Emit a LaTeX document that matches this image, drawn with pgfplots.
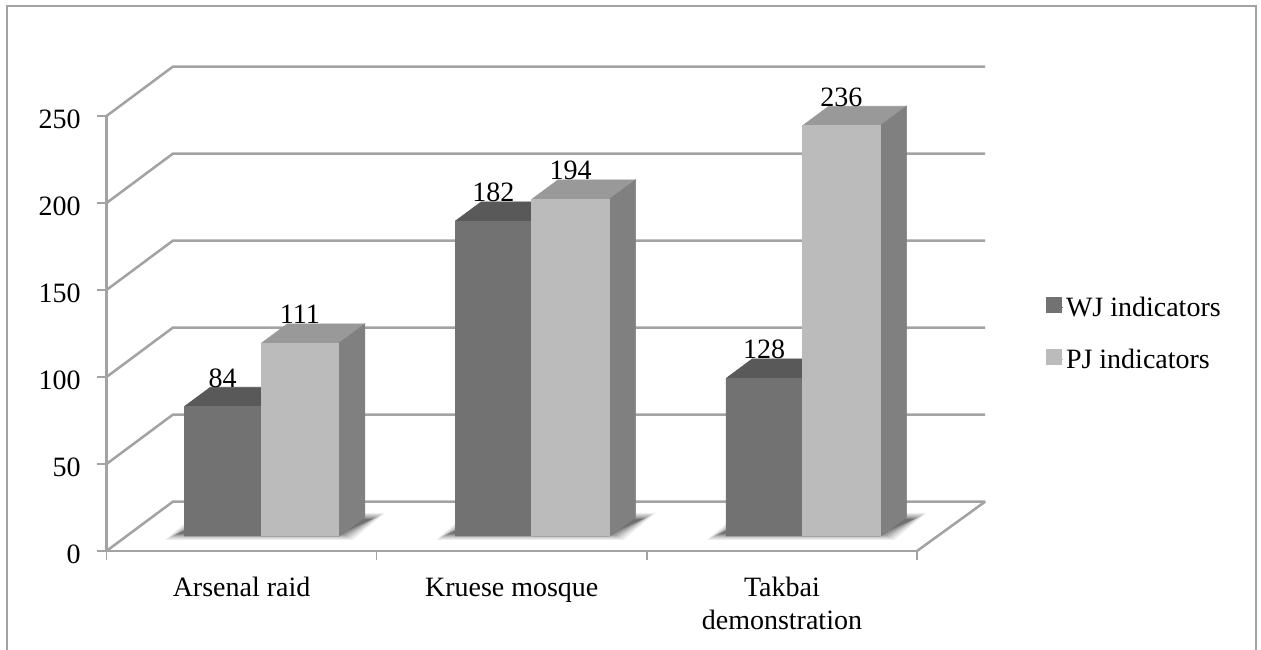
\documentclass[border=0pt]{standalone}
\usepackage{fontspec}
\setmainfont{Liberation Serif}
\usepackage{pgfplots}
\pgfplotsset{compat=1.18}
\definecolor{gridc}{HTML}{A3A3A3}
\definecolor{wjf}{HTML}{727272}
\definecolor{wjt}{HTML}{595959}
\definecolor{pjf}{HTML}{BBBBBB}
\definecolor{pjt}{HTML}{999999}
\definecolor{sidec}{HTML}{808080}
\newcommand{\chartfont}{\fontsize{21}{24.5}\selectfont}
% one grid line on the walls: value
\newcommand{\wall}[1]{%
  \pgfmathsetmacro{\yb}{#1+28.4}%
  \edef\temp{\noexpand\addplot[gridc,line width=1.9pt,forget plot,line join=round] coordinates {(0,#1) (0.246,\yb) (3.2525,\yb)};}\temp}
% shadow layer of a group: left x, right x, inset (px), opacity
\newcommand{\floorlayer}[4]{%
    \pgfmathsetmacro{\xa}{#1+(-19+#3)/270.2}\pgfmathsetmacro{\xb}{#2+(14-#3)/270.2}%
    \pgfmathsetmacro{\xc}{#2+(46-#3)/270.2}\pgfmathsetmacro{\xd}{#1+(13+#3)/270.2}%
    \pgfmathsetmacro{\ya}{(11+#3*0.5)/1.74}\pgfmathsetmacro{\yb}{(38-#3*0.5)/1.74}%
    \edef\temp{\noexpand\addplot[fill=black,fill opacity=#4,draw=none,forget plot] coordinates {(\xa,\ya) (\xb,\ya) (\xc,\yb) (\xd,\yb) (\xa,\ya)};}\temp}
\newcommand{\floorshadow}[2]{%
  \floorlayer{#1}{#2}{0}{0.07}\floorlayer{#1}{#2}{2.5}{0.09}\floorlayer{#1}{#2}{5}{0.11}%
  \floorlayer{#1}{#2}{7.5}{0.14}\floorlayer{#1}{#2}{10}{0.16}\floorlayer{#1}{#2}{12.5}{0.18}}
% bar: x0, x1, value, front colour, top colour, label
\newcommand{\cube}[6]{%
  \pgfmathsetmacro{\ya}{8.2}\pgfmathsetmacro{\yb}{8.2+#3}\pgfmathsetmacro{\yc}{8.2+#3+11.2}%
  \pgfmathsetmacro{\yd}{8.2+11.2}%
  \pgfmathsetmacro{\xc}{#1+0.0973}\pgfmathsetmacro{\xd}{#2+0.0973}%
  \pgfmathsetmacro{\xm}{(#1+#2)/2}%
  \edef\temp{%
    \noexpand\addplot[fill=#5,draw=#5,line width=0.4pt,forget plot] coordinates {(#1,\yb) (#2,\yb) (\xd,\yc) (\xc,\yc) (#1,\yb)};
    \noexpand\addplot[fill=sidec,draw=sidec,line width=0.4pt,forget plot] coordinates {(#2,\ya) (\xd,\yd) (\xd,\yc) (#2,\yb) (#2,\ya)};
    \noexpand\addplot[fill=#4,draw=#4,line width=0.4pt,forget plot] coordinates {(#1,\ya) (#2,\ya) (#2,\yb) (#1,\yb) (#1,\ya)};
    \noexpand\addplot[gridc,line width=0.9pt,forget plot] coordinates {(#1,\ya) (#2,\ya)};
  }\temp
  \edef\temp{\noexpand\node[anchor=base,inner sep=0pt,font=\noexpand\chartfont] at (axis cs:\xm,\yc) {#6};}\temp}
\begin{document}
\begin{tikzpicture}
\useasboundingbox (0,0) rectangle (945.75pt,487.5pt);
\fill[white] (0,0) rectangle (945.75pt,487.5pt);
\draw[gridc,line width=1.5pt] (5.6pt,0) -- (5.6pt,483pt) -- (942.2pt,483pt) -- (942.2pt,0);
\begin{axis}[
  at={(79.875pt,74.25pt)},anchor=origin,
  scale only axis,width=607.875pt,height=326.25pt,
  xmin=0,xmax=3,ymin=0,ymax=250,
  axis x line=bottom,axis y line=left,
  axis line style={-,gridc,line width=1.9pt},
  clip=false,
  xtick={0.5,1.5,2.5},
  xticklabels={{\strut Arsenal raid},{\strut Kruese mosque},{\strut Takbai\\demonstration}},
  minor xtick={0,1,2,3},
  ytick={0,50,100,150,200,250},
  major x tick style={draw=none},
  minor x tick style={gridc,line width=1.1pt},
  y tick style={gridc,line width=1.1pt},
  major tick length=6.75pt,
  minor tick length=6.75pt,
  tick align=outside,
  /pgf/number format/assume math mode=true,
  yticklabel style={font=\chartfont,text=black,inner sep=0pt,xshift=-12.5pt,yshift=-2.25pt},
  xticklabel style={font=\chartfont,text=black,align=center,inner sep=0pt,yshift=-9.9pt},
  legend style={draw=none,fill=none,at={(1.159,0.5)},anchor=west,inner sep=0pt,outer sep=0pt,
    font=\chartfont,row sep=19pt,cells={anchor=west}},
  legend cell align=left,
  legend image code/.code={\fill[#1] (0pt,-3.5pt) rectangle (11.2pt,7.7pt);\path (0pt,0pt) -- (12.7pt,0pt);},
]
\addlegendimage{wjf}
\addlegendimage{pjf}
\addlegendentry{WJ indicators}
\addlegendentry{PJ indicators}
\wall{0}\wall{50}\wall{100}\wall{150}\wall{200}\wall{250}
\addplot[gridc,line width=1.9pt,forget plot] coordinates {(3,0) (3.2525,28.4)};
\floorshadow{0.287}{0.859}
\floorshadow{1.290}{1.861}
\floorshadow{2.293}{2.864}
\cube{0.287}{0.572}{74.7}{wjf}{wjt}{84}
\cube{0.572}{0.859}{111.1}{pjf}{pjt}{111}
\cube{1.290}{1.574}{181.3}{wjf}{wjt}{182}
\cube{1.574}{1.861}{193.9}{pjf}{pjt}{194}
\cube{2.293}{2.576}{91}{wjf}{wjt}{128}
\cube{2.576}{2.864}{236.2}{pjf}{pjt}{236}
\end{axis}
\end{tikzpicture}
\end{document}
